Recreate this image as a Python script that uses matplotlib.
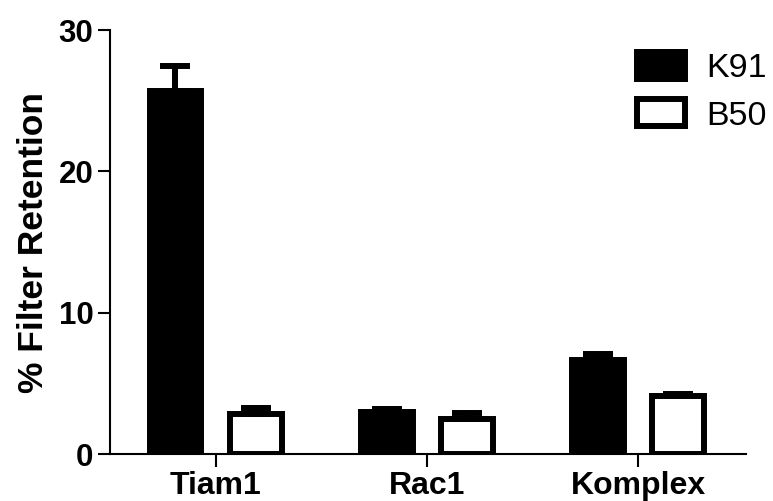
import matplotlib.pyplot as plt
import numpy as np
from matplotlib.patches import Patch

# filter retention per construct
groups = ['Tiam1', 'Rac1', 'Komplex']
k91_mean = [25.7, 2.97, 6.64]
k91_err = [1.75, 0.25, 0.45]
b50_mean = [2.83, 2.47, 4.1]
b50_err = [0.4, 0.45, 0.12]

plt.rcParams['font.family'] = ['Liberation Sans', 'DejaVu Sans']

fig = plt.figure(figsize=(7.73, 5.01), dpi=100)
ax = fig.add_axes([0.1423, 0.0938, 0.8227, 0.8462])

x = np.arange(len(groups))
w = 0.245
off = 0.19
edge = 4.3

ax.bar(x - off, k91_mean, w, color='black', edgecolor='black', linewidth=edge,
       yerr=[np.zeros(3), k91_err], ecolor='black',
       error_kw=dict(elinewidth=4.3, capsize=11, capthick=4.3), zorder=2)
ax.bar(x + off, b50_mean, w, color='white', edgecolor='black', linewidth=edge,
       yerr=[np.zeros(3), b50_err], ecolor='black',
       error_kw=dict(elinewidth=4.3, capsize=11, capthick=4.3), zorder=2)

ax.set_xlim(-0.5, 2.51)
ax.set_ylim(0, 30)
ax.set_yticks([0, 10, 20, 30])
ax.set_xticks(x)
ax.set_xticklabels(groups, fontsize=23, fontweight='bold')
for lab in ax.get_yticklabels():
    lab.set_fontsize(22.5)
    lab.set_fontweight('bold')
ax.set_ylabel('% Filter Retention', fontsize=25.5, fontweight='bold', labelpad=6)

for s in ['top', 'right']:
    ax.spines[s].set_visible(False)
for s in ['left', 'bottom']:
    ax.spines[s].set_linewidth(1.5)
ax.tick_params(axis='both', width=1.5, length=9, pad=3)

handles = [Patch(facecolor='black', edgecolor='black', linewidth=edge, label='K91'),
           Patch(facecolor='white', edgecolor='black', linewidth=edge, label='B50')]
fig.legend(handles=handles, loc='upper left', bbox_to_anchor=(0.824, 0.897),
           frameon=False, fontsize=24.5, handlelength=1.4, handleheight=0.85,
           handletextpad=0.65, labelspacing=0.45, borderpad=0, borderaxespad=0)

fig.savefig('out.png', dpi=100)
